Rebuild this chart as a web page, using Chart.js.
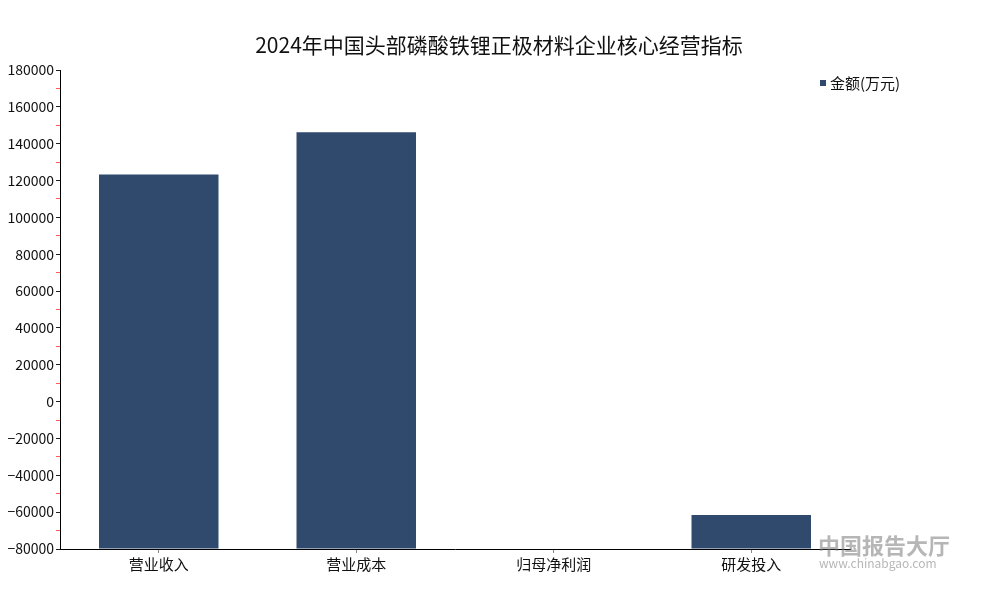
<!DOCTYPE html>
<html>
<head>
<meta charset="utf-8">
<script src="https://cdn.jsdelivr.net/npm/chart.js@4.4.1/dist/chart.umd.min.js"></script>
<style>
  html, body { margin: 0; padding: 0; background: #ffffff; }
  #wrap { width: 1000px; height: 600px; }
</style>
</head>
<body>
<div id="wrap"><canvas id="chart" width="1000" height="600"></canvas></div>
<script>
// Chart data
const titleText = '2024年中国头部磷酸铁锂正极材料企业核心经营指标';
const categories = ['营业收入', '营业成本', '归母净利润', '研发投入'];
const seriesName = '金额(万元)';
const amounts = [123300, 146200, -80000, -61500];
const yMin = -80000;
const yMax = 180000;

const barColor = '#2f4a6d';
const fontFamily = "'Noto Sans CJK SC', 'DejaVu Sans', sans-serif";

// Title, legend and watermark drawn at fixed places
const decorPlugin = {
    id: 'decor',
    afterDraw(chart) {
        const ctx = chart.ctx;
        ctx.save();
        // title
        ctx.fillStyle = '#111111';
        ctx.font = `21px ${fontFamily}`;
        ctx.textAlign = 'center';
        ctx.textBaseline = 'middle';
        ctx.fillText(titleText, 499, 45);

        // legend
        ctx.fillStyle = barColor;
        ctx.fillRect(820, 80, 6, 6);
        ctx.fillStyle = '#111111';
        ctx.font = `15px ${fontFamily}`;
        ctx.textAlign = 'left';
        ctx.fillText(seriesName, 830, 83);

        // watermark
        ctx.globalAlpha = 0.55;
        ctx.fillStyle = '#7a7a7a';
        ctx.font = `bold 22px ${fontFamily}`;
        ctx.fillText('中国报告大厅', 818, 546);
        ctx.font = `12px ${fontFamily}`;
        ctx.fillText('www.chinabgao.com', 819, 563);
        ctx.restore();
    }
};

const ctx = document.getElementById('chart').getContext('2d');
new Chart(ctx, {
    type: 'bar',
    data: {
        labels: categories,
        datasets: [{
            label: seriesName,
            data: amounts,
            base: yMin,
            backgroundColor: barColor,
            borderWidth: 0,
            barPercentage: 0.605,
            categoryPercentage: 1.0
        }]
    },
    options: {
        responsive: false,
        animation: false,
        devicePixelRatio: 1,
        layout: {
            padding: { top: 70, right: 150, bottom: 0, left: 0 }
        },
        scales: {
            x: {
                afterFit: function(scale) { scale.height = 51; },
                grid: {
                    offset: false,
                    drawOnChartArea: false,
                    tickLength: 4,
                    color: '#888888'
                },
                border: { color: '#000000', width: 1 },
                ticks: {
                    color: '#111111',
                    padding: 2,
                    font: { family: fontFamily, size: 15 }
                }
            },
            y: {
                min: yMin,
                max: yMax,
                afterFit: function(scale) { scale.width = 60; },
                grid: {
                    drawOnChartArea: false,
                    tickLength: 4,
                    color: function(c) {
                        return c.tick && c.tick.value % 20000 === 0 ? '#222222' : '#ff5a5a';
                    }
                },
                border: { color: '#000000', width: 1 },
                ticks: {
                    stepSize: 10000,
                    autoSkip: false,
                    color: '#111111',
                    padding: 2,
                    font: { family: fontFamily, size: 14 },
                    callback: function(value) {
                        return value % 20000 === 0 ? String(value).replace('-', '\u2212') : '';
                    }
                }
            }
        },
        plugins: {
            legend: { display: false },
            title: { display: false },
            tooltip: { enabled: false }
        }
    },
    plugins: [decorPlugin]
});
</script>
</body>
</html>
